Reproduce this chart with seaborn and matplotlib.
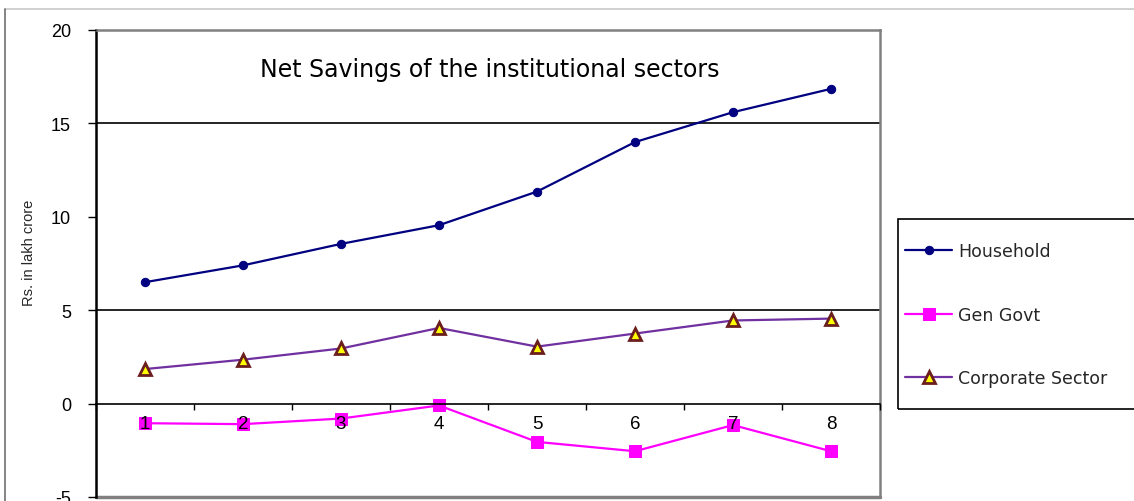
import matplotlib
matplotlib.use("Agg")
import matplotlib.pyplot as plt
from matplotlib.lines import Line2D
from matplotlib.patches import Rectangle
import seaborn as sns
import pandas as pd

periods = [1, 2, 3, 4, 5, 6, 7, 8]
household = [6.5, 7.4, 8.55, 9.55, 11.35, 14.0, 15.6, 16.85]
gen_govt = [-1.05, -1.1, -0.8, -0.1, -2.05, -2.55, -1.15, -2.55]
corporate = [1.85, 2.35, 2.95, 4.05, 3.05, 3.75, 4.45, 4.55]
y_ticks = [-5, 0, 5, 10, 15, 20]
title = "Net Savings of the institutional sectors"
y_label = "Rs. in lakh crore"

sns.set_theme(style="white")
plt.rcParams['font.family'] = ['Liberation Sans', 'DejaVu Sans']

fig = plt.figure(figsize=(11.34, 5.02), dpi=100)
ax = fig.add_axes([96/1134, 1-498/502, (880-96)/1134, (498-31)/502])

df_h = pd.DataFrame({"x": periods, "y": household})
df_g = pd.DataFrame({"x": periods, "y": gen_govt})
df_c = pd.DataFrame({"x": periods, "y": corporate})

for yv in (5, 15):
    ax.axhline(yv, color="black", lw=1.2, zorder=1)

sns.lineplot(data=df_h, x="x", y="y", ax=ax, color="#000080", lw=1.6,
             marker="o", markersize=6, markeredgecolor="#000080",
             markerfacecolor="#000080", label="Household", zorder=2)
sns.lineplot(data=df_g, x="x", y="y", ax=ax, color="#FF00FF", lw=1.6,
             marker="s", markersize=8.5, markeredgecolor="#FF00FF",
             markerfacecolor="#FF00FF", label="Gen Govt", zorder=2)
sns.lineplot(data=df_c, x="x", y="y", ax=ax, color="#7030A0", lw=1.6,
             marker="^", markersize=8.5, markeredgecolor="#6B1E1E",
             markeredgewidth=2, markerfacecolor="#FFFF00",
             label="Corporate Sector", zorder=2)

ax.set_axisbelow(False)
ax.set_xlim(0.5, 8.5)
ax.set_ylim(-5, 20)
ax.set_yticks(y_ticks)
ax.set_yticklabels([str(v) for v in y_ticks])
ax.set_xticks(periods)
ax.set_xticklabels([str(p) for p in periods])
ax.set_xticks([p + 0.5 for p in [0] + periods], minor=True)
ax.tick_params(axis="x", which="major", length=0, pad=8, colors="black",
               labelsize=13.5)
ax.tick_params(axis="x", which="minor", length=4, width=1, direction="out",
               color="black", bottom=True)
ax.tick_params(axis="y", which="major", length=6, width=1, pad=12,
               direction="out", left=True, colors="black", labelsize=13)
ax.set_xlabel("")
ax.set_ylabel("")

ax.spines["left"].set_color("black")
ax.spines["left"].set_linewidth(1.8)
ax.spines["bottom"].set_position(("data", 0))
ax.spines["bottom"].set_color("black")
ax.spines["bottom"].set_linewidth(1.2)
for s in ("top", "right"):
    ax.spines[s].set_color("#808080")
    ax.spines[s].set_linewidth(1.8)
    ax.spines[s].set_visible(True)
ax.plot([0, 1], [0, 0], transform=ax.transAxes, color="#808080", lw=2.5,
        clip_on=False, zorder=0)

fig.text(490/1134, 1-70/502, title, ha="center", va="center",
         fontsize=17, family=['DejaVu Sans'], color="black")

fig.text(29/1134, 1-253/502, y_label, rotation=90, ha="center", va="center",
         fontsize=10.5, family=['Liberation Sans Narrow', 'Liberation Sans', 'DejaVu Sans'])

handles, labels = ax.get_legend_handles_labels()
ax.get_legend().remove()
leg = fig.legend(handles, labels, loc="upper left",
                 bbox_to_anchor=(902/1134, 1-240/502),
                 bbox_transform=fig.transFigure, frameon=False,
                 handlelength=2.7, labelspacing=2.6, borderpad=0.2,
                 borderaxespad=0, handletextpad=0.35,
                 prop={'family': ['DejaVu Sans'], 'size': 12.5})
fig.add_artist(Rectangle((898/1134, 1-410/502), 300/1134, 190/502,
                         transform=fig.transFigure, fill=False,
                         edgecolor="black", lw=1.2, clip_on=False))

# outer chart border
fig.add_artist(Line2D([5/1134, 1], [1-10/502, 1-10/502], transform=fig.transFigure,
                      color="#C8C8C8", lw=1.2))
fig.add_artist(Line2D([5/1134, 5/1134], [0, 1-10/502], transform=fig.transFigure,
                      color="#707070", lw=1.2))

fig.savefig("out.png", dpi=100)
